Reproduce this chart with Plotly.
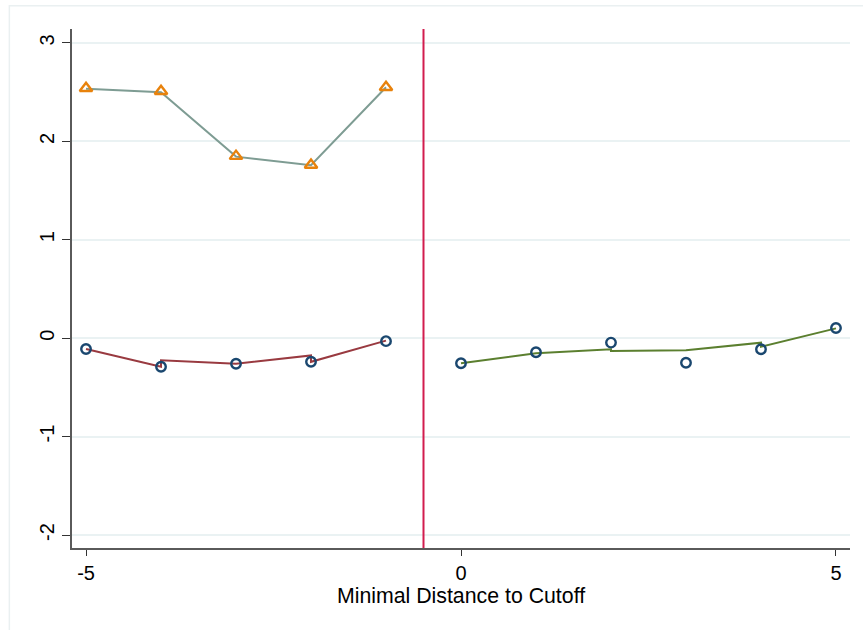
import plotly.graph_objects as go

# ---- data ----
x_left = [-5, -4, -3, -2, -1]
tri_y = [2.54, 2.51, 1.85, 1.76, 2.55]
tri_fit_y = [2.535, 2.50, 1.845, 1.757, 2.55]

circ_left_y = [-0.11, -0.29, -0.26, -0.24, -0.03]
fit_left_x = [-5, -4, -4, -3, -2, -2, -1]
fit_left_y = [-0.11, -0.29, -0.225, -0.26, -0.175, -0.24, -0.025]

x_right = [0, 1, 2, 3, 4, 5]
circ_right_y = [-0.255, -0.143, -0.045, -0.249, -0.113, 0.104]
fit_right_x = [0, 1, 2, 2, 3, 4, 4, 5]
fit_right_y = [-0.255, -0.153, -0.113, -0.130, -0.123, -0.046, -0.086, 0.10]

cutoff = -0.5
x_ticks = [-5, 0, 5]
y_ticks = [-2, -1, 0, 1, 2, 3]
x_title = "Minimal Distance to Cutoff"

fig = go.Figure()

fig.add_trace(go.Scatter(x=x_left, y=tri_fit_y, mode="lines",
                         line=dict(color="#7E9C93", width=2), showlegend=False))
fig.add_trace(go.Scatter(x=x_left, y=tri_y, mode="markers",
                         marker=dict(symbol="triangle-up-open", size=11, color="#E8820C",
                                     line=dict(width=2.4, color="#E8820C")),
                         showlegend=False))
fig.add_trace(go.Scatter(x=fit_left_x, y=fit_left_y, mode="lines",
                         line=dict(color="#993A40", width=2), showlegend=False))
fig.add_trace(go.Scatter(x=fit_right_x, y=fit_right_y, mode="lines",
                         line=dict(color="#5B7F2F", width=2), showlegend=False))
fig.add_trace(go.Scatter(x=x_left + x_right, y=circ_left_y + circ_right_y, mode="markers",
                         marker=dict(symbol="circle-open", size=9.5, color="#1A476F",
                                     line=dict(width=2.4, color="#1A476F")),
                         showlegend=False))

# cutoff line
fig.add_shape(type="line", xref="x", yref="paper", x0=cutoff, x1=cutoff, y0=0, y1=1,
              line=dict(color="#D21C4E", width=2))
# outer frame (cropped graph region border)
fig.add_shape(type="rect", xref="paper", yref="paper",
              x0=-0.0805, x1=1.1, y0=-0.2, y1=1.045,
              line=dict(color="#EAF0F1", width=1.5), layer="below")

fig.update_layout(
    width=863, height=630,
    margin=dict(l=72, r=13, t=29, b=82),
    plot_bgcolor="white", paper_bgcolor="white",
    font=dict(family="Liberation Sans, Arial, sans-serif", color="#000000", size=20),
    xaxis=dict(range=[-5.187, 5.187], tickvals=x_ticks, ticktext=[str(v) for v in x_ticks],
               showgrid=False, zeroline=False, showline=True, linecolor="#5A5A5A", linewidth=2,
               ticks="outside", ticklen=6, tickwidth=1.2, tickcolor="#333333",
               tickfont=dict(size=20),
               title=dict(text=x_title, font=dict(size=21.3), standoff=3)),
    yaxis=dict(range=[-2.132, 3.142], tickvals=y_ticks, ticktext=[str(v) for v in y_ticks],
               showgrid=True, gridcolor="#EAF2F3", gridwidth=1.5, zeroline=False,
               showline=True, linecolor="#5A5A5A", linewidth=2,
               ticks="outside", ticklen=8, tickwidth=1.2, tickcolor="#333333",
               tickangle=-90, tickfont=dict(size=20)),
)

fig.write_html("out.html")
